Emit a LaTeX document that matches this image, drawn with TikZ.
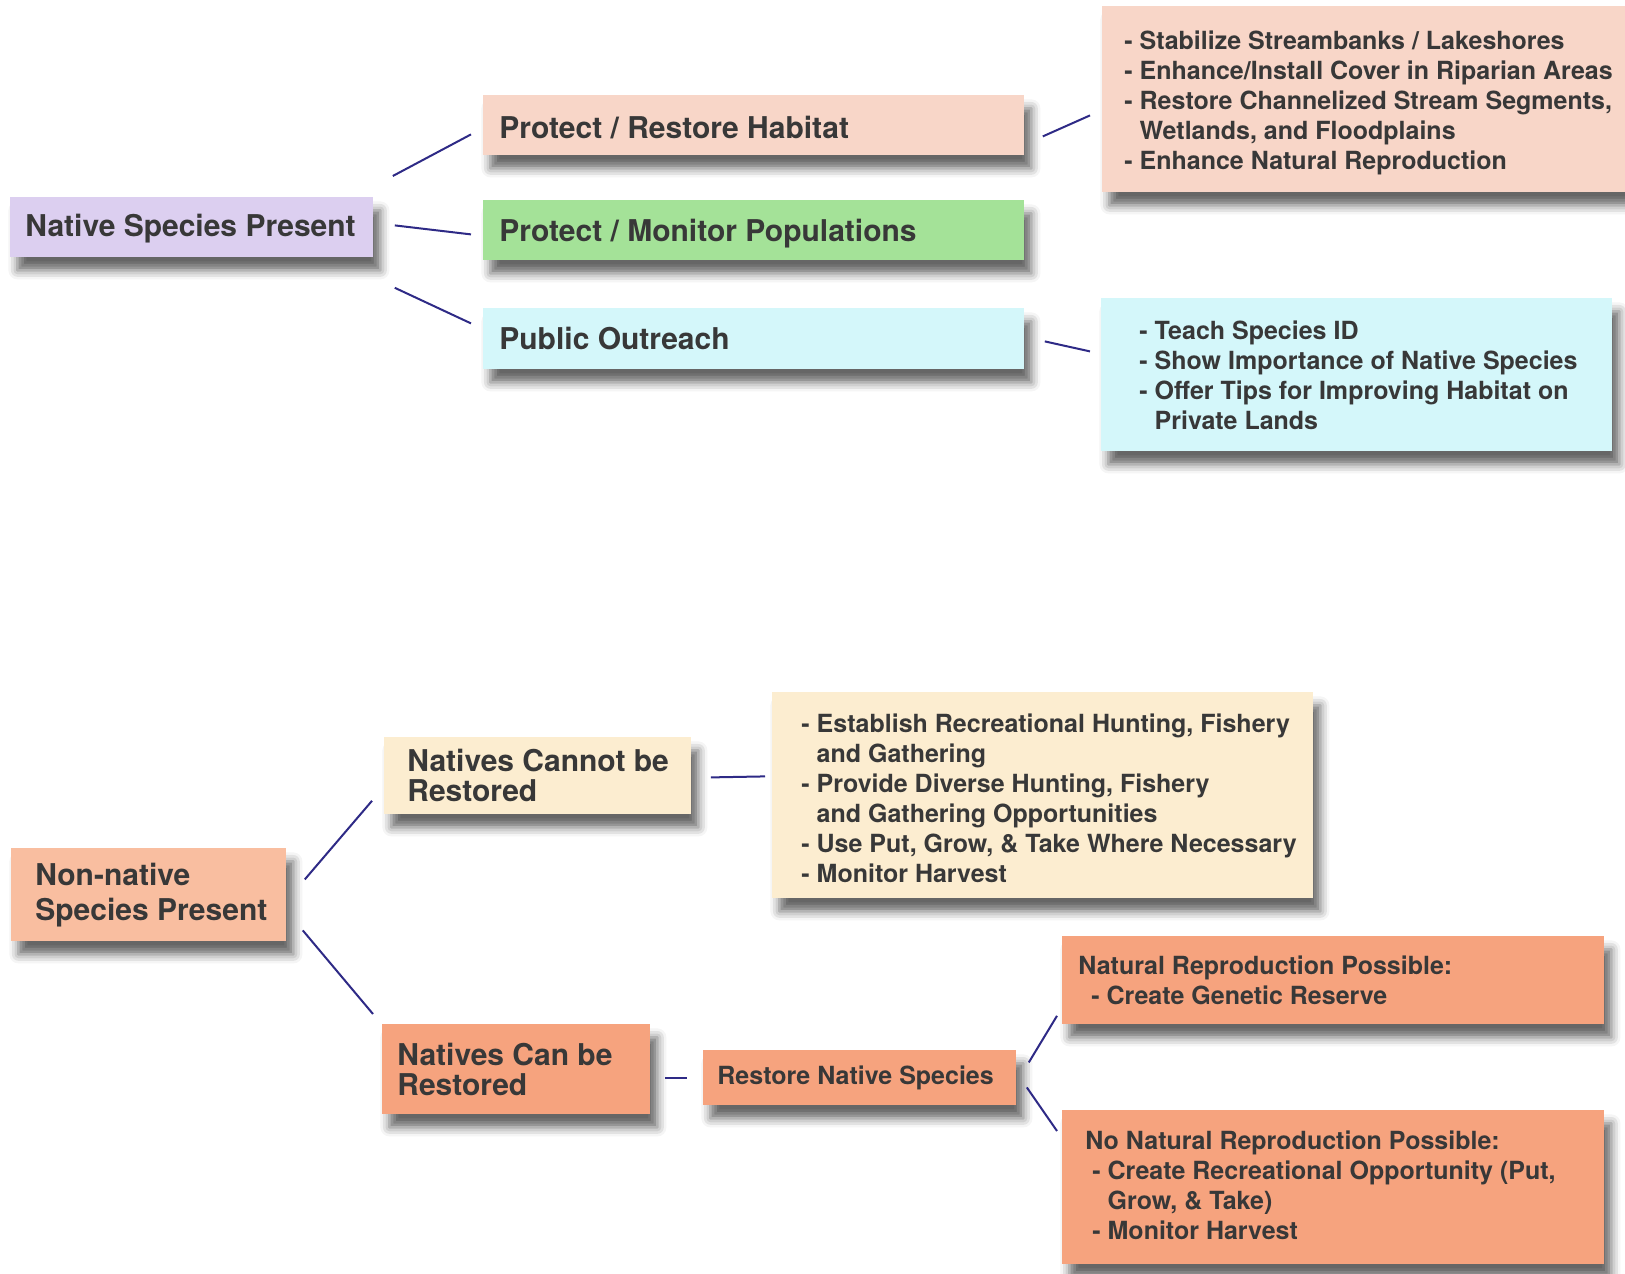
\documentclass[tikz,border=0pt]{standalone}
\usepackage{fontspec}
\setmainfont{TeX Gyre Heros}
\usetikzlibrary{shadows.blur}

\definecolor{ink}{HTML}{383838}
\definecolor{linkc}{HTML}{2E2A86}
\definecolor{lavender}{HTML}{DCCFF0}
\definecolor{peach}{HTML}{F8D6C8}
\definecolor{leaf}{HTML}{A4E298}
\definecolor{ice}{HTML}{D4F7FA}
\definecolor{apricot}{HTML}{F9BEA0}
\definecolor{cream}{HTML}{FCEDD0}
\definecolor{salmon}{HTML}{F6A37E}

\begin{document}
\begin{tikzpicture}[x=0.5pt,y=-0.5pt,
  box/.style={rectangle, draw=none, inner sep=0pt, anchor=north west,
    blur shadow={shadow xshift=3.5pt, shadow yshift=-6.5pt,
      shadow blur radius=4.5pt, shadow opacity=60}},
  big/.style={anchor=west, inner sep=0pt, align=left, text=ink,
    font=\bfseries\fontsize{15}{15}\selectfont},
  small/.style={anchor=west, inner sep=0pt, align=left, text=ink,
    font=\bfseries\fontsize{12.5}{15}\selectfont},
  link/.style={draw=linkc, line width=1pt}]

\useasboundingbox (0,0) rectangle (1625,1273);

% ---------- native species branch ----------
\node[box, fill=lavender, minimum width=181.5pt, minimum height=30pt] (nsp) at (10,197) {};
\node[big] (nsp-t) at ([xshift=7.5pt,yshift=-0.5pt]nsp.west) {Native Species Present};

\node[box, fill=peach, minimum width=270.5pt, minimum height=30pt] (prh) at (483,95) {};
\node[big] (prh-t) at ([xshift=8pt,yshift=-1pt]prh.west) {Protect / Restore Habitat};

\node[box, fill=leaf, minimum width=270.5pt, minimum height=30pt] (pmp) at (483,200) {};
\node[big] (pmp-t) at ([xshift=8pt,yshift=-1.5pt]pmp.west) {Protect / Monitor Populations};

\node[box, fill=ice, minimum width=270.5pt, minimum height=30.5pt] (po) at (483,308) {};
\node[big] (po-t) at ([xshift=8pt]po.west) {Public Outreach};

\node[box, fill=peach, minimum width=275pt, minimum height=93pt] (hab) at (1102,6) {};
\node[small] (hab-t) at ([xshift=11pt,yshift=-2pt]hab.west) {%
- Stabilize Streambanks / Lakeshores\\
- Enhance/Install Cover in Riparian Areas\\
- Restore Channelized Stream Segments,\\
\hphantom{- }Wetlands, and Floodplains\\
- Enhance Natural Reproduction};

\node[box, fill=ice, minimum width=255.5pt, minimum height=76.5pt] (out) at (1101,298) {};
\node[small] (out-t) at ([xshift=19pt]out.west) {%
- Teach Species ID\\
- Show Importance of Native Species\\
- Offer Tips for Improving Habitat on\\
\hphantom{- }Private Lands};

\draw[link] ([xshift=9.5pt,yshift=10.5pt]nsp.north east) -- ([xshift=-6pt,yshift=-4.5pt]prh.west);
\draw[link] ([xshift=10.5pt,yshift=1pt]nsp.east) -- ([xshift=-6pt,yshift=-2pt]pmp.west);
\draw[link] ([xshift=10.5pt,yshift=-15pt]nsp.south east) -- ([xshift=-6pt,yshift=7.75pt]po.west);
\draw[link] ([xshift=9pt,yshift=-5.5pt]prh.east) -- ([xshift=-6pt,yshift=-8pt]hab.west);
\draw[link] ([xshift=10pt,yshift=-1.25pt]po.east) -- ([xshift=-5.5pt,yshift=11.75pt]out.west);

% ---------- non-native species branch ----------
\node[box, fill=apricot, minimum width=137.5pt, minimum height=46.5pt] (ncs) at (11,848) {};
\node[big, font=\bfseries\fontsize{15}{17.5}\selectfont] (ncs-t) at ([xshift=12pt]ncs.west) {Non-native\\Species Present};

\node[box, fill=cream, minimum width=153.5pt, minimum height=38.5pt] (ncr) at (384,737) {};
\node[big] (ncr-t) at ([xshift=11.5pt]ncr.west) {Natives Cannot be\\Restored};

\node[box, fill=cream, minimum width=270.5pt, minimum height=103pt] (har) at (772,692) {};
\node[small] (har-t) at ([xshift=14.5pt,yshift=-1.5pt]har.west) {%
- Establish Recreational Hunting, Fishery\\
\hphantom{- }and Gathering\\
- Provide Diverse Hunting, Fishery\\
\hphantom{- }and Gathering Opportunities\\
- Use Put, Grow, \& Take Where Necessary\\
- Monitor Harvest};

\node[box, fill=salmon, minimum width=134pt, minimum height=45pt] (ncbr) at (382,1024) {};
\node[big] (ncbr-t) at ([xshift=7.5pt]ncbr.west) {Natives Can be\\Restored};

\node[box, fill=salmon, minimum width=156.5pt, minimum height=27.5pt] (rns) at (703,1050) {};
\node[small] (rns-t) at ([xshift=7pt]rns.west) {Restore Native Species};

\node[box, fill=salmon, minimum width=271pt, minimum height=44pt] (nrp) at (1062,936) {};
\node[small] (nrp-t) at ([xshift=8pt]nrp.west) {%
Natural Reproduction Possible:\\
\hspace*{6.5pt}- Create Genetic Reserve};

\node[box, fill=salmon, minimum width=271pt, minimum height=77pt] (nnrp) at (1062,1110) {};
\node[small] (nnrp-t) at ([xshift=11.5pt,yshift=1pt]nnrp.west) {%
No Natural Reproduction Possible:\\
\hspace*{3.5pt}- Create Recreational Opportunity (Put,\\
\hspace*{3.5pt}\hphantom{- }Grow, \& Take)\\
\hspace*{3.5pt}- Monitor Harvest};

\draw[link] ([xshift=9pt,yshift=7.75pt]ncs.east) -- ([xshift=-6pt,yshift=7pt]ncr.south west);
\draw[link] ([xshift=8pt,yshift=-17.75pt]ncs.east) -- ([xshift=-4.5pt,yshift=5pt]ncbr.north west);
\draw[link] ([xshift=9.5pt,yshift=-0.75pt]ncr.east) -- ([xshift=-3.5pt,yshift=9.5pt]har.west);
\draw[link] ([xshift=7pt,yshift=-4.5pt]ncbr.east) -- ([xshift=-8pt,yshift=-0.25pt]rns.west);
\draw[link] ([xshift=6pt,yshift=7.75pt]rns.east) -- ([xshift=-2.5pt,yshift=4.5pt]nrp.south west);
\draw[link] ([xshift=5pt,yshift=-4.75pt]rns.east) -- ([xshift=-2.5pt,yshift=-10.5pt]nnrp.north west);

\end{tikzpicture}
\end{document}
